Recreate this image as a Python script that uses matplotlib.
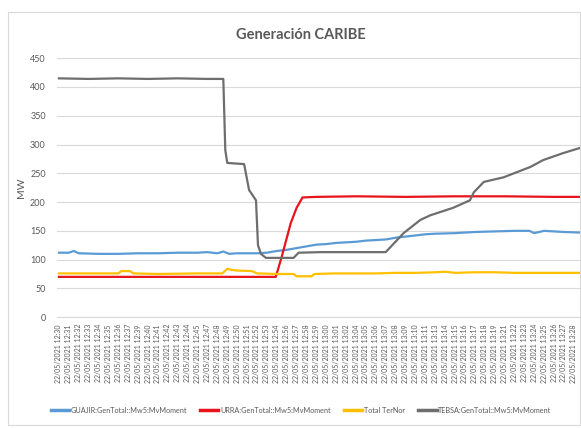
import matplotlib
matplotlib.use("Agg")
import matplotlib.pyplot as plt
from matplotlib.patches import Rectangle

plt.rcParams['font.family'] = ['Lato', 'DejaVu Sans']

# Category tick labels (minutes shown on the axis)
tick_minutes = ["12:30", "12:31", "12:32", "12:33", "12:34", "12:35", "12:36", "12:37",
                "12:39", "12:40", "12:41", "12:42", "12:43", "12:44", "12:45",
                "12:47", "12:48", "12:49", "12:50", "12:51", "12:52", "12:53", "12:54",
                "12:56", "12:57", "12:58", "12:59", "13:00", "13:01", "13:02",
                "13:04", "13:05", "13:06", "13:07", "13:08", "13:09", "13:10", "13:11",
                "13:13", "13:14", "13:15", "13:16", "13:17", "13:18", "13:19",
                "13:21", "13:22", "13:23", "13:24", "13:25", "13:26", "13:27", "13:28"]
tick_labels = ["22/05/2021 " + m for m in tick_minutes]

# Series: positions in category-index units, values in MW
guajir_x = [0, 1, 1.5, 2, 4, 6, 8, 10, 12, 14, 15, 16, 16.6, 17.2, 18, 20, 21, 22, 23, 24, 25,
            26, 27, 28, 29, 30, 31, 32, 33, 34, 35, 36, 37, 38, 40, 42, 44, 46, 47.5, 48,
            48.5, 49, 50, 51, 52.6]
guajir_y = [112, 112, 115, 111, 110, 110, 111, 111, 112, 112, 113, 111, 114, 110, 111, 111,
            112, 115, 117, 120, 123, 126, 127, 129, 130, 131, 133, 134, 135, 138, 140, 142,
            144, 145, 146, 148, 149, 150, 150, 146, 148, 150, 149, 148, 147]

urra_x = [0, 4, 8, 12, 16, 20, 21.9, 22.5, 23.4, 24, 24.6, 26, 30, 35, 40, 45, 50, 52.6]
urra_y = [70, 70, 70, 70, 70, 70, 70, 105, 163, 190, 208, 209, 210, 209, 210, 210, 209, 209]

ternor_x = [0, 6, 6.3, 7.2, 7.5, 10, 14, 16.5, 17, 17.5, 18, 19.5, 20, 22, 23.7, 24, 25.5,
            25.8, 28, 32, 34, 36, 38, 39, 40, 42, 44, 46, 48, 50, 52.6]
ternor_y = [76, 76, 80, 80, 76, 75, 76, 76, 84, 82, 81, 80, 76, 75, 75, 71, 71, 75, 76, 76,
            77, 77, 78, 79, 77, 78, 78, 77, 77, 77, 77]

tebsa_x = [0, 3, 6, 9, 12, 15, 16.6, 16.8, 17.0, 18.7, 19.2, 19.9, 20.1, 20.4, 20.9, 23.7,
           24.2, 26.5, 33.0, 34.8, 36.5, 37.5, 39.8, 41.5, 41.9, 42.9, 44.9, 47.6, 48.9,
           50.9, 52.6]
tebsa_y = [415, 414, 415, 414, 415, 414, 414, 290, 268, 266, 221, 203, 125, 110, 103, 103,
           112, 113, 113, 146, 169, 177, 190, 203, 217, 235, 243, 261, 273, 285, 294]

series_names = ["GUAJIR:GenTotal::Mw5:MvMoment", "URRA:GenTotal::Mw5:MvMoment",
                "Total TerNor", "TEBSA:GenTotal::Mw5:MvMoment"]
colors = ["#5b9bd5", "#e8141b", "#ffc000", "#6e6e6e"]

fig = plt.figure(figsize=(5.81, 4.28), dpi=100)
fig.patches.append(Rectangle((8/581, 3/428), 572/581, 413/428, transform=fig.transFigure,
                             fill=False, edgecolor="#d9d9d9", linewidth=0.8))
ax = fig.add_axes([0.098, 0.259, 0.9, 0.605])

lines = []
for (xs, ys), name, c in zip([(guajir_x, guajir_y), (urra_x, urra_y),
                              (ternor_x, ternor_y), (tebsa_x, tebsa_y)],
                             series_names, colors):
    ln, = ax.plot(xs, ys, color=c, linewidth=1.6, label=name)
    lines.append(ln)

ax.set_ylim(0, 450)
ax.set_yticks(range(0, 451, 50))
ax.set_xlim(-0.2, 52.6)
ax.set_xticks(range(len(tick_labels)))
ax.set_xticklabels(tick_labels, rotation=90, fontsize=5, color="#595959")
ax.tick_params(axis='both', length=0, colors="#595959")
ax.tick_params(axis='y', labelsize=6.5, pad=8)
ax.tick_params(axis='x', pad=5)
ax.grid(axis='y', color="#d9d9d9", linewidth=0.8)
ax.set_axisbelow(True)
for s in ["top", "right", "left"]:
    ax.spines[s].set_visible(False)
ax.spines["bottom"].set_color("#d9d9d9")
ax.set_ylabel("MW", fontsize=7.5, color="#595959", labelpad=3)

fig.text(0.517, 0.918, "Generación CARIBE", ha="center", va="center",
         fontsize=10.5, fontweight="bold", color="#595959")

leg = fig.legend(handles=lines, loc="center", bbox_to_anchor=(0.518, 0.042), ncol=4,
                 frameon=False, fontsize=5.2, handlelength=2.5, columnspacing=1.9,
                 handletextpad=0.2, labelcolor="#595959")
for h in leg.legend_handles:
    h.set_linewidth(2.5)

fig.savefig("out.png", dpi=100)
